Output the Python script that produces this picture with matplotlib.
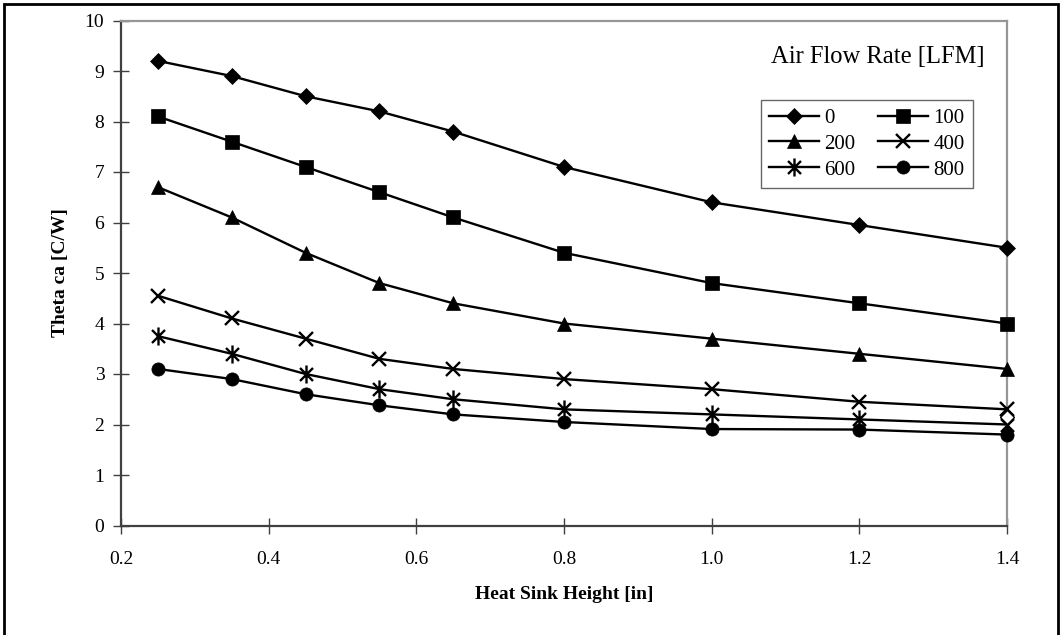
import matplotlib
matplotlib.use("Agg")
import matplotlib.pyplot as plt
import matplotlib.ticker as mticker
from matplotlib.patches import Rectangle
from matplotlib.path import Path

plt.rcParams["font.family"] = ["Liberation Serif", "DejaVu Serif"]

# ---------------------------------------------------------------------------
# Data
# ---------------------------------------------------------------------------
heights = [0.25, 0.35, 0.45, 0.55, 0.65, 0.8, 1.0, 1.2, 1.4]

flow_labels = ["0", "100", "200", "400", "600", "800"]
theta_0 = [9.2, 8.9, 8.5, 8.2, 7.8, 7.1, 6.4, 5.95, 5.5]
theta_100 = [8.1, 7.6, 7.1, 6.6, 6.1, 5.4, 4.8, 4.4, 4.0]
theta_200 = [6.7, 6.1, 5.4, 4.8, 4.4, 4.0, 3.7, 3.4, 3.1]
theta_400 = [4.55, 4.1, 3.7, 3.3, 3.1, 2.9, 2.7, 2.45, 2.3]
theta_600 = [3.75, 3.4, 3.0, 2.7, 2.5, 2.3, 2.2, 2.1, 2.0]
theta_800 = [3.1, 2.9, 2.6, 2.38, 2.2, 2.05, 1.91, 1.9, 1.8]

# odd hollow diamond sitting on the right edge of the plot
stray_x = [1.4]
stray_y = [2.15]

x_ticks = [0.2, 0.4, 0.6, 0.8, 1.0, 1.2, 1.4]
y_ticks = list(range(0, 11))

# Excel-style star: an X with a vertical bar through it
star = Path([(0, -1), (0, 1), (-0.72, -0.72), (0.72, 0.72), (-0.72, 0.72), (0.72, -0.72)],
            [Path.MOVETO, Path.LINETO] * 3)

series = [theta_0, theta_100, theta_200, theta_400, theta_600, theta_800]
markers = ["D", "s", "^", "x", star, "o"]
msizes = [8.5, 9.5, 9.5, 10, 13, 9.5]
thin = [False, False, False, True, True, False]

# ---------------------------------------------------------------------------
fig = plt.figure(figsize=(10.64, 6.35), dpi=100)
ax = fig.add_axes([121 / 1064, 1 - 525.5 / 635, 886 / 1064, 505 / 635])

handles = []
for vals, lab, mk, ms, th in zip(series, flow_labels, markers, msizes, thin):
    (h,) = ax.plot(heights, vals, color="black", lw=1.7, marker=mk, ms=ms,
                   markerfacecolor="black", markeredgecolor="black",
                   markeredgewidth=1.7 if th else 0.5,
                   label=lab, clip_on=False, zorder=3)
    handles.append(h)

ax.plot(stray_x, stray_y, ls="none", marker="D", ms=7, mfc="white",
        mec="black", mew=1.0, clip_on=False, zorder=4)

ax.set_xlim(0.2, 1.4)
ax.set_ylim(0, 10)
ax.set_xticks(x_ticks)
ax.set_yticks(y_ticks)
ax.xaxis.set_major_formatter(mticker.FormatStrFormatter("%.1f"))

ax.tick_params(direction="inout", length=12, width=1.0, color="#404040",
               labelsize=14, pad=6)
ax.tick_params(axis="x", pad=12)

for side in ("left", "bottom"):
    ax.spines[side].set_color("#404040")
    ax.spines[side].set_linewidth(1.6)
for side in ("top", "right"):
    ax.spines[side].set_color("#969696")
    ax.spines[side].set_linewidth(1.6)

ax.set_xlabel("Heat Sink Height [in]", fontsize=14, fontweight="bold", labelpad=13)
ax.set_ylabel("Theta ca [C/W]", fontsize=14, fontweight="bold", labelpad=11)

ax.text(0.975, 0.916, "Air Flow Rate [LFM]", transform=ax.transAxes,
        ha="right", va="baseline", fontsize=17.7)

# legend rows read 0/100, 200/400, 600/800 -> reorder for column-major fill
order = [0, 2, 4, 1, 3, 5]
leg = ax.legend([handles[i] for i in order], [flow_labels[i] for i in order],
                ncol=2, loc="upper right", bbox_to_anchor=(0.9616, 0.8426),
                borderaxespad=0, fancybox=False, fontsize=15, handlelength=2.4,
                handletextpad=0.25, columnspacing=1.1, labelspacing=0.3,
                borderpad=0.4)
leg.get_frame().set_edgecolor("#404040")
leg.get_frame().set_linewidth(1.0)

# chart-area frame (bottom edge falls outside the image)
fig.patches.append(Rectangle((4 / 1064, -0.02), 1054 / 1064, 1.02 - 4 / 635,
                             transform=fig.transFigure, fill=False,
                             edgecolor="black", lw=2.0))

fig.savefig("out.png", dpi=100)
